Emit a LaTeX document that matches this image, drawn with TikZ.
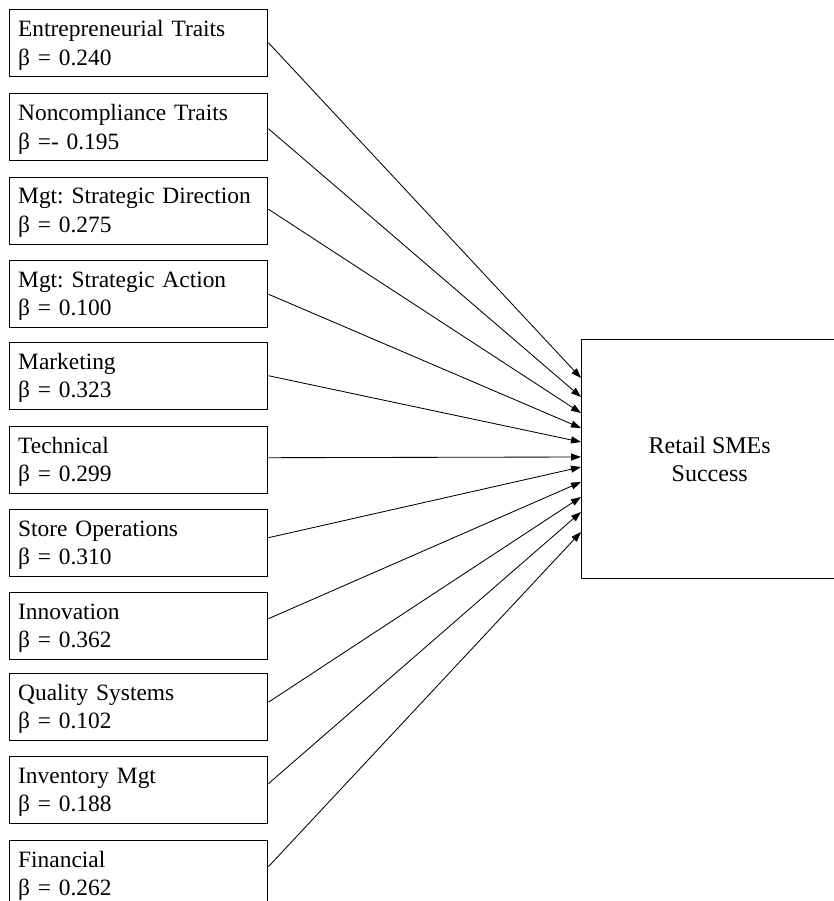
\documentclass[tikz,border=0pt]{standalone}
\usepackage{fontspec}
\setmainfont[WordSpace=0.45]{Liberation Serif}
\newfontfamily\outfont{Liberation Serif}
\usetikzlibrary{arrows.meta}
\frenchspacing
\tikzset{
  factor/.style={draw=black, line width=1.4pt, rectangle, anchor=north west,
    minimum width=258pt, minimum height=67pt, inner sep=0pt},
  lbl/.style={anchor=base west, inner sep=0pt, text width=250pt, align=left,
    font=\fontsize{23.4pt}{28.5pt}\selectfont},
  outcome/.style={draw=black, line width=1.4pt, rectangle, anchor=north west,
    minimum width=256pt, minimum height=239pt, inner sep=0pt, align=center,
    font=\outfont\fontsize{24pt}{28pt}\selectfont},
  link/.style={draw=black, line width=0.85pt, -{Triangle[length=10pt,width=7pt]}}
}
\begin{document}
\begin{tikzpicture}[x=1pt,y=-1pt]
\useasboundingbox (0,0) rectangle (834,901);
\clip (0,0) rectangle (834,901);
% factor boxes
\node[factor] (b1) at (9,9) {};
\node[factor] (b2) at (9,93) {};
\node[factor] (b3) at (9,177) {};
\node[factor] (b4) at (9,260) {};
\node[factor] (b5) at (9,342) {};
\node[factor] (b6) at (9,426) {};
\node[factor] (b7) at (9,509) {};
\node[factor] (b8) at (9,592) {};
\node[factor] (b9) at (9,673) {};
\node[factor] (b10) at (9,756) {};
\node[factor] (b11) at (9,840) {};
% labels
\node[lbl] (l1) at (18,37) {Entrepreneurial Traits\\ β = 0.240};
\node[lbl] (l2) at (18,121) {Noncompliance Traits\\ β =- 0.195};
\node[lbl] (l3) at (18,204) {Mgt: Strategic Direction\\ β = 0.275};
\node[lbl] (l4) at (18,287) {Mgt: Strategic Action\\ β = 0.100};
\node[lbl] (l5) at (18,369) {Marketing\\ β = 0.323};
\node[lbl] (l6) at (18,453) {Technical\\ β = 0.299};
\node[lbl] (l7) at (18,536) {Store Operations\\ β = 0.310};
\node[lbl] (l8) at (18,619) {Innovation\\ β = 0.362};
\node[lbl] (l9) at (18,700) {Quality Systems\\ β = 0.102};
\node[lbl] (l10) at (18,783) {Inventory Mgt\\ β = 0.188};
\node[lbl] (l11) at (18,867) {Financial\\ β = 0.262};
% outcome
\node[outcome] (R) at (581,339) {Retail SMEs\\Success};
% arrow targets on outcome box
\coordinate (e1) at (581,378);
\coordinate (e2) at (581,397);
\coordinate (e3) at (581,413);
\coordinate (e4) at (581,428);
\coordinate (e5) at (581,442);
\coordinate (e6) at (581,457);
\coordinate (e7) at (581,467);
\coordinate (e8) at (581,482);
\coordinate (e9) at (581,497);
\coordinate (e10) at (581,512);
\coordinate (e11) at (581,532);
% connectors
\draw[link] ([yshift=0.5pt]b1.east) -- (e1);
\draw[link] ([yshift=-1.5pt]b2.east) -- (e2);
\draw[link] ([yshift=2pt]b3.east) -- (e3);
\draw[link] ([yshift=0pt]b4.east) -- (e4);
\draw[link] ([yshift=0.5pt]b5.east) -- (e5);
\draw[link] ([yshift=2.5pt]b6.east) -- (e6);
\draw[link] ([yshift=5.5pt]b7.east) -- (e7);
\draw[link] ([yshift=7.5pt]b8.east) -- (e8);
\draw[link] ([yshift=5pt]b9.east) -- (e9);
\draw[link] ([yshift=6.5pt]b10.east) -- (e10);
\draw[link] ([yshift=7.5pt]b11.east) -- (e11);
\end{tikzpicture}
\end{document}
